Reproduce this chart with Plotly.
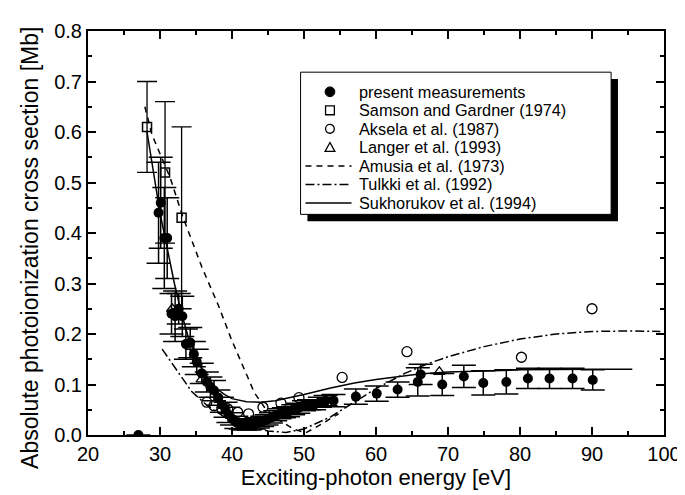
import plotly.graph_objects as go

# present measurements
pm_e = [27.0, 29.8, 30.1, 30.6, 31.0, 31.6, 32.1, 32.6, 33.1, 33.6, 34.2, 34.7, 35.1, 35.8,
        36.5, 37.0, 37.5, 38.1, 38.6, 39.1, 39.5, 40.0, 40.6, 41.2, 41.8, 42.4, 43.0, 43.6,
        44.2, 44.8, 45.4, 46.0, 46.6, 47.2, 47.8, 48.5, 49.2, 50.0, 50.7, 51.4, 52.2, 53.0,
        54.1, 57.2, 60.1, 63.0, 65.8, 66.2, 69.2, 72.2, 74.9, 78.1, 81.1, 84.1, 87.3, 90.1]
pm_v = [0.0, 0.44, 0.46, 0.39, 0.39, 0.24, 0.235, 0.25, 0.235, 0.18, 0.183, 0.16, 0.145, 0.122,
        0.105, 0.095, 0.088, 0.074, 0.06, 0.05, 0.04, 0.032, 0.025, 0.022, 0.02, 0.02, 0.022, 0.024,
        0.027, 0.03, 0.034, 0.038, 0.042, 0.044, 0.046, 0.05, 0.053, 0.058, 0.06, 0.06, 0.065, 0.068,
        0.068, 0.076, 0.082, 0.09, 0.105, 0.12, 0.10, 0.116, 0.103, 0.105, 0.112, 0.112, 0.112, 0.109]
pm_err = [0, 0.1, 0.09, 0.1, 0.08, 0.04, 0.05, 0.03, 0.04, 0.03, 0.03, 0.025, 0.025, 0.02,
          0.02, 0.02, 0.02, 0.015, 0.015, 0.015, 0.015, 0.012, 0.012, 0.01, 0.01, 0.01, 0.01, 0.01,
          0.01, 0.01, 0.01, 0.01, 0.01, 0.01, 0.01, 0.01, 0.01, 0.01, 0.01, 0.01, 0.01, 0.01,
          0.012, 0.015, 0.015, 0.015, 0.028, 0.02, 0.022, 0.022, 0.024, 0.024, 0.02, 0.02, 0.02, 0.02]

# Samson and Gardner (1974)
sg_e = [28.2, 30.7, 33.0]
sg_v = [0.61, 0.52, 0.43]
sg_err = [0.09, 0.14, 0.18]

# Aksela et al. (1987)
ak_e = [36.5, 37.5, 38.6, 39.4, 40.8, 42.3, 44.3, 46.8, 49.3, 55.3, 64.3, 80.2, 90.0]
ak_v = [0.065, 0.058, 0.052, 0.052, 0.045, 0.042, 0.055, 0.063, 0.074, 0.114, 0.165, 0.154, 0.25]

# Langer et al. (1993)
la_e = [31.7, 35.8, 68.8]
la_v = [0.25, 0.11, 0.125]

# Amusia et al. (1973)
am_e = [27.9, 28.9, 31.4, 33.1, 35.8, 38.1, 39.9, 43.1, 44.5, 46.5, 48.5, 50.2, 52.0, 54.8]
am_v = [0.65, 0.594, 0.51, 0.435, 0.333, 0.257, 0.19, 0.084, 0.055, 0.03, 0.012, 0.004, 0.018, 0.042]

# Tulkki et al. (1992)
tu_e = [30.3, 33.1, 34.4, 36.5, 39.0, 42.0, 45.0, 47.5, 50.0, 53.7, 56.0, 58.0, 60.0, 62.0,
        64.0, 67.0, 70.0, 75.0, 80.0, 85.0, 90.0, 95.0, 99.5]
tu_v = [0.17, 0.113, 0.086, 0.059, 0.035, 0.018, 0.008, 0.005, 0.012, 0.036, 0.056, 0.075, 0.092, 0.107,
        0.122, 0.14, 0.155, 0.175, 0.19, 0.2, 0.205, 0.206, 0.205]

# Sukhorukov et al. (1994)
su_e = [28.2, 29.0, 30.0, 31.0, 32.0, 33.0, 34.0, 35.0, 36.0, 37.0, 38.0, 39.0, 40.0, 42.0,
        44.0, 46.0, 48.0, 50.0, 53.7, 57.0, 60.0, 66.0, 70.0, 80.0, 90.0, 95.6]
su_v = [0.6, 0.53, 0.44, 0.37, 0.3, 0.24, 0.19, 0.155, 0.125, 0.105, 0.09, 0.08, 0.072, 0.066,
        0.065, 0.068, 0.074, 0.08, 0.093, 0.103, 0.11, 0.121, 0.125, 0.129, 0.13, 0.13]

legend_names = ["present measurements", "Samson and Gardner (1974)", "Aksela et al. (1987)",
                "Langer et al. (1993)", "Amusia et al. (1973)", "Tulkki et al. (1992)",
                "Sukhorukov et al. (1994)"]

FONT = "Liberation Sans, Arial, sans-serif"
W, H = 685, 495
ML, MR, MT, MB = 80, 17, 15, 68
PW, PH = W - ML - MR, H - MT - MB


def xp(px):
    return (px - ML) / PW


def yp(py):
    return (H - MB - py) / PH


DASH = "6px,5px"
DASHDOT = "9px,3px,2px,3px"

fig = go.Figure()

fig.add_trace(go.Scatter(
    x=pm_e, y=pm_v, mode="markers", name=legend_names[0],
    marker=dict(symbol="circle", size=10, color="black"),
    error_y=dict(type="data", array=pm_err, visible=True, color="black", thickness=1.5, width=12),
))
fig.add_trace(go.Scatter(
    x=sg_e, y=sg_v, mode="markers", name=legend_names[1],
    marker=dict(symbol="square-open", size=9, color="black", line=dict(width=1.5)),
    error_y=dict(type="data", array=sg_err, visible=True, color="black", thickness=1.3, width=10),
))
fig.add_trace(go.Scatter(
    x=ak_e, y=ak_v, mode="markers", name=legend_names[2],
    marker=dict(symbol="circle-open", size=10, color="black", line=dict(width=1.3)),
))
fig.add_trace(go.Scatter(
    x=la_e, y=la_v, mode="markers", name=legend_names[3],
    marker=dict(symbol="triangle-up-open", size=10, color="black", line=dict(width=1.3)),
))
fig.add_trace(go.Scatter(
    x=am_e, y=am_v, mode="lines", name=legend_names[4],
    line=dict(color="black", width=1.5, dash=DASH),
))
fig.add_trace(go.Scatter(
    x=tu_e, y=tu_v, mode="lines", name=legend_names[5],
    line=dict(color="black", width=1.5, dash=DASHDOT),
))
fig.add_trace(go.Scatter(
    x=su_e, y=su_v, mode="lines", name=legend_names[6],
    line=dict(color="black", width=1.5),
))

# ---- hand-drawn legend box with drop shadow ----
BX0, BX1, BY0, BY1 = 297, 614, 57, 202
SH = 7
fig.add_shape(type="rect", xref="paper", yref="paper",
              x0=xp(BX0 + SH), x1=xp(BX1 + SH), y0=yp(BY1 + SH), y1=yp(BY0 + SH),
              fillcolor="black", line=dict(width=0), layer="above")
fig.add_shape(type="rect", xref="paper", yref="paper",
              x0=xp(BX0), x1=xp(BX1), y0=yp(BY1), y1=yp(BY0),
              fillcolor="white", line=dict(color="black", width=1), layer="above")

rows = [77 + 18.9 * i for i in range(7)]
MX = 327
TX = 355
for name, ry in zip(legend_names, rows):
    fig.add_annotation(xref="paper", yref="paper", x=xp(TX), y=yp(ry), text=name,
                       showarrow=False, xanchor="left", yanchor="middle",
                       font=dict(family=FONT, size=16.3, color="black"))

r = 5
# filled circle
fig.add_shape(type="circle", xref="paper", yref="paper",
              x0=xp(MX - r), x1=xp(MX + r), y0=yp(rows[0] + r), y1=yp(rows[0] - r),
              fillcolor="black", line=dict(color="black", width=1), layer="above")
# open square
s = 4.5
fig.add_shape(type="rect", xref="paper", yref="paper",
              x0=xp(MX - s), x1=xp(MX + s), y0=yp(rows[1] + s), y1=yp(rows[1] - s),
              fillcolor="white", line=dict(color="black", width=1.3), layer="above")
# open circle
fig.add_shape(type="circle", xref="paper", yref="paper",
              x0=xp(MX - 4.5), x1=xp(MX + 4.5), y0=yp(rows[2] + 4.5), y1=yp(rows[2] - 4.5),
              fillcolor="white", line=dict(color="black", width=1.3), layer="above")
# open triangle
ty = rows[3]
tri = "M {} {} L {} {} L {} {} Z".format(xp(MX - 5), yp(ty + 4), xp(MX + 5), yp(ty + 4), xp(MX), yp(ty - 5))
fig.add_shape(type="path", xref="paper", yref="paper", path=tri,
              fillcolor="white", line=dict(color="black", width=1.3), layer="above")
# line samples
for ry, dash in zip(rows[4:], [DASH, DASHDOT, "solid"]):
    fig.add_shape(type="line", xref="paper", yref="paper",
                  x0=xp(302), x1=xp(349), y0=yp(ry), y1=yp(ry),
                  line=dict(color="black", width=1.5, dash=dash), layer="above")

# y-axis title placed as an annotation so it can sit close to the left edge
fig.add_annotation(xref="paper", yref="paper", x=xp(20), y=yp(236),
                   text="Absolute photoionization cross section [Mb]", textangle=-90,
                   showarrow=False, xanchor="center", yanchor="middle",
                   font=dict(family=FONT, size=23, color="black"))

axis_common = dict(
    showgrid=False, zeroline=False, showline=True, linecolor="black", linewidth=2,
    mirror="ticks", ticks="inside", ticklen=8, tickwidth=1.5, tickcolor="black",
    tickfont=dict(family=FONT, size=20, color="black"),
)

fig.update_layout(
    width=W, height=H,
    margin=dict(l=ML, r=MR, t=MT, b=MB),
    paper_bgcolor="white", plot_bgcolor="white",
    font=dict(family=FONT, color="black"),
    showlegend=False,
    xaxis=dict(
        range=[20, 100], tickmode="array", tickvals=[20, 30, 40, 50, 60, 70, 80, 90, 100],
        minor=dict(ticks="inside", ticklen=4, tickcolor="black", dtick=5, tick0=20),
        title=dict(text="Exciting-photon energy [eV]", font=dict(family=FONT, size=22), standoff=4),
        **axis_common,
    ),
    yaxis=dict(
        range=[0, 0.8], tickmode="array", tickvals=[0, 0.1, 0.2, 0.3, 0.4, 0.5, 0.6, 0.7, 0.8],
        ticktext=["0.0", "0.1", "0.2", "0.3", "0.4", "0.5", "0.6", "0.7", "0.8"],
        minor=dict(ticks="inside", ticklen=4, tickcolor="black", dtick=0.05, tick0=0),
        **axis_common,
    ),
)

fig.write_html("out.html")
